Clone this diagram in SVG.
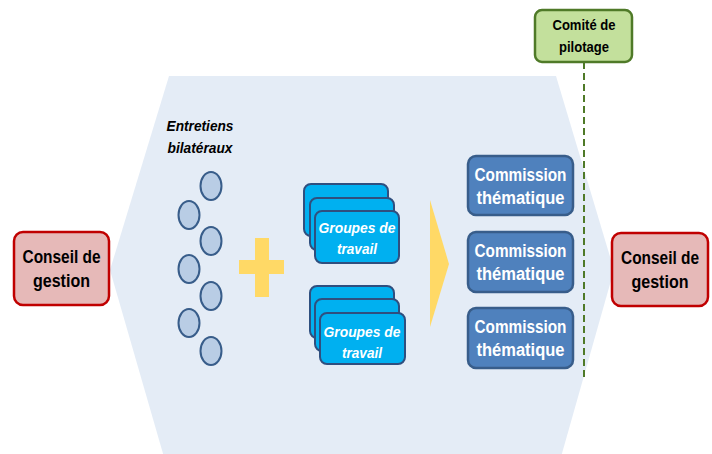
<svg xmlns="http://www.w3.org/2000/svg" width="712" height="454" viewBox="0 0 712 454">
<defs>
<style>
.cg{fill:#E6B9B8;stroke:#C00000;stroke-width:2.5}
.cgt{font-family:"Liberation Sans",Arial,sans-serif;font-weight:bold;font-size:17.5px;fill:#000;text-anchor:middle}
.cp{fill:#C3E09C;stroke:#4F7A28;stroke-width:2.5}
.cpt{font-family:"Liberation Sans",Arial,sans-serif;font-weight:bold;font-size:15px;fill:#000;text-anchor:middle}
.ell{fill:#B9CDE5;stroke:#385D8A;stroke-width:2}
.gt{fill:#00B0F0;stroke:#2F4F7F;stroke-width:2}
.gtt{font-family:"Liberation Sans",Arial,sans-serif;font-weight:bold;font-style:italic;font-size:15px;fill:#fff;text-anchor:middle}
.cm{fill:#4F81BD;stroke:#385D8A;stroke-width:2.5}
.cmt{font-family:"Liberation Sans",Arial,sans-serif;font-weight:bold;font-size:18px;fill:#fff;text-anchor:middle}
.et{font-family:"Liberation Sans",Arial,sans-serif;font-weight:bold;font-style:italic;font-size:15px;fill:#000;text-anchor:middle}
.yl{fill:#FFD966}
</style>
</defs>
<polygon id="background" points="169,76 556,76 614,270 559,464 166,464 110,270" fill="#E4ECF6"/>
<g id="connectors">
<line x1="584" y1="62" x2="584" y2="378" stroke="#4F7A28" stroke-width="2" stroke-dasharray="7,4"/>
</g>
<g id="conseil-left">
<rect class="cg" x="14" y="232" width="95" height="73" rx="9"/>
<text class="cgt" x="61.5" y="263" textLength="78" lengthAdjust="spacingAndGlyphs">Conseil de</text>
<text class="cgt" x="61.5" y="287" textLength="57" lengthAdjust="spacingAndGlyphs">gestion</text>
</g>
<g id="conseil-right">
<rect class="cg" x="612" y="233" width="96" height="73" rx="9"/>
<text class="cgt" x="660" y="264" textLength="78" lengthAdjust="spacingAndGlyphs">Conseil de</text>
<text class="cgt" x="660" y="288" textLength="57" lengthAdjust="spacingAndGlyphs">gestion</text>
</g>
<g id="comite">
<rect class="cp" x="535" y="10" width="97" height="52" rx="7"/>
<text class="cpt" x="584" y="30" textLength="63" lengthAdjust="spacingAndGlyphs">Comité de</text>
<text class="cpt" x="584" y="52" textLength="50" lengthAdjust="spacingAndGlyphs">pilotage</text>
</g>
<g id="entretiens">
<text class="et" x="200" y="131" textLength="67" lengthAdjust="spacingAndGlyphs">Entretiens</text>
<text class="et" x="200" y="153" textLength="65" lengthAdjust="spacingAndGlyphs">bilatéraux</text>
<ellipse class="ell" cx="211" cy="186" rx="10.5" ry="14"/>
<ellipse class="ell" cx="189" cy="215" rx="10.5" ry="14"/>
<ellipse class="ell" cx="211" cy="241" rx="10.5" ry="14"/>
<ellipse class="ell" cx="189" cy="269" rx="10.5" ry="14"/>
<ellipse class="ell" cx="211" cy="296" rx="10.5" ry="14"/>
<ellipse class="ell" cx="189" cy="323" rx="10.5" ry="14"/>
<ellipse class="ell" cx="211" cy="351" rx="10.5" ry="14"/>
</g>
<g id="plus">
<rect class="yl" x="239" y="260" width="45" height="14"/>
<rect class="yl" x="255" y="238" width="14" height="59"/>
</g>
<g id="groupes-1">
<rect class="gt" x="304" y="184" width="84" height="52" rx="7"/>
<rect class="gt" x="310" y="198" width="84" height="52" rx="7"/>
<rect class="gt" x="315" y="211" width="84" height="52" rx="7"/>
<text class="gtt" x="357" y="233" textLength="77" lengthAdjust="spacingAndGlyphs">Groupes de</text>
<text class="gtt" x="357" y="254" textLength="40" lengthAdjust="spacingAndGlyphs">travail</text>
</g>
<g id="groupes-2">
<rect class="gt" x="310" y="286" width="84" height="52" rx="7"/>
<rect class="gt" x="315" y="299" width="84" height="52" rx="7"/>
<rect class="gt" x="320" y="313" width="85" height="51" rx="7"/>
<text class="gtt" x="362" y="337" textLength="77" lengthAdjust="spacingAndGlyphs">Groupes de</text>
<text class="gtt" x="362" y="358" textLength="40" lengthAdjust="spacingAndGlyphs">travail</text>
</g>
<g id="arrow">
<polygon class="yl" points="430,200 449,264 430,327"/>
</g>
<g id="commission-1">
<rect class="cm" x="468" y="156" width="105" height="59" rx="8"/>
<text class="cmt" x="520.5" y="181" textLength="92" lengthAdjust="spacingAndGlyphs">Commission</text>
<text class="cmt" x="520.5" y="204" textLength="88" lengthAdjust="spacingAndGlyphs">thématique</text>
</g>
<g id="commission-2">
<rect class="cm" x="468" y="232" width="105" height="60" rx="8"/>
<text class="cmt" x="520.5" y="257" textLength="92" lengthAdjust="spacingAndGlyphs">Commission</text>
<text class="cmt" x="520.5" y="280" textLength="88" lengthAdjust="spacingAndGlyphs">thématique</text>
</g>
<g id="commission-3">
<rect class="cm" x="468" y="308" width="105" height="60" rx="8"/>
<text class="cmt" x="520.5" y="333" textLength="92" lengthAdjust="spacingAndGlyphs">Commission</text>
<text class="cmt" x="520.5" y="356" textLength="88" lengthAdjust="spacingAndGlyphs">thématique</text>
</g>
</svg>
